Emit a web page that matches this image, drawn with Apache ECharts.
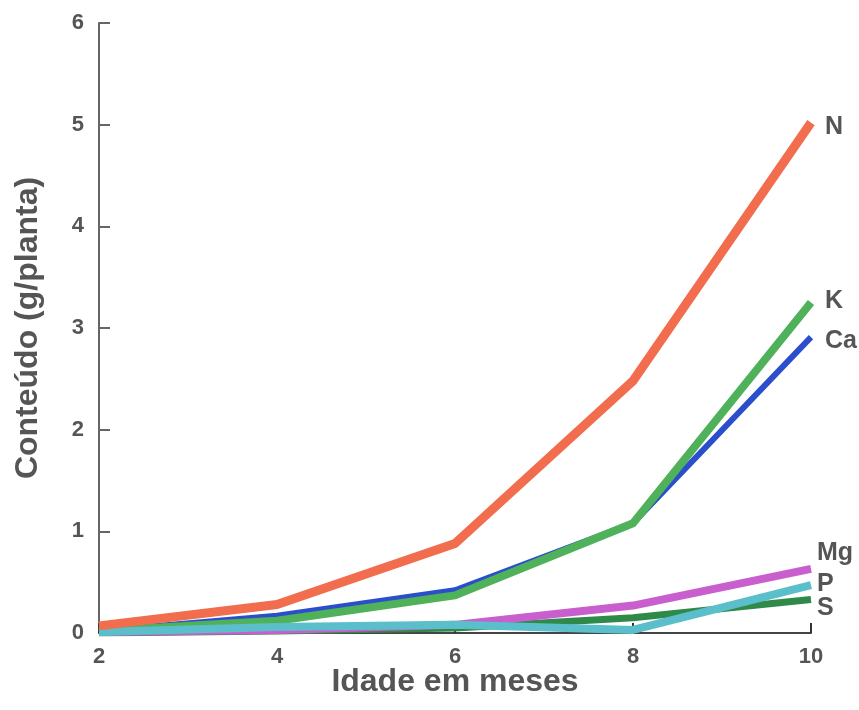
<!DOCTYPE html>
<html><head><meta charset="utf-8">
<script src="https://cdn.jsdelivr.net/npm/echarts@6/dist/echarts.min.js"></script>
<style>html,body{margin:0;padding:0;background:#fff}#c{width:859px;height:710px}</style>
</head><body><div id="c"></div>
<script>
const months = [2, 4, 6, 8, 10];
const N  = [0.07, 0.28, 0.88, 2.48, 5.02];
const K  = [0.02, 0.12, 0.37, 1.08, 3.25];
const Ca = [0.02, 0.17, 0.42, 1.08, 2.91];
const Mg = [0.01, 0.03, 0.08, 0.27, 0.63];
const P  = [0.01, 0.06, 0.08, 0.03, 0.47];
const S  = [0.00, 0.02, 0.05, 0.15, 0.33];
const yTicks = [0, 1, 2, 3, 4, 5, 6];

const font = '"Liberation Sans", Arial, sans-serif';
function mk(name, data, color, width, offset, z) {
  return {
    name, type: 'line', data: months.map((m, i) => [m, data[i]]),
    symbol: 'none', z: z,
    lineStyle: { color, width, cap: 'butt', join: 'round' },
    endLabel: { show: true, formatter: name, color: '#555', fontFamily: font,
      fontWeight: 'bold', fontSize: 25, offset: offset, distance: 12 },
    animation: false
  };
}
const chart = echarts.init(document.getElementById('c'));
chart.setOption({
  animation: false,
  grid: { left: 99, right: 48, top: 23, bottom: 77, containLabel: false, outerBoundsMode: 'none' },
  xAxis: {
    type: 'value', min: 2, max: 10, interval: 2,
    name: 'Idade em meses', nameLocation: 'middle', nameGap: 33, nameMoveOverlap: false,
    nameTextStyle: { color: '#555', fontFamily: font, fontWeight: 'bold', fontSize: 32 },
    axisLine: { lineStyle: { color: '#444', width: 2 } },
    axisTick: { inside: true, length: 10, lineStyle: { color: '#333', width: 2 } },
    axisLabel: { color: '#555', fontFamily: font, fontWeight: 'bold', fontSize: 22, margin: 13 },
    splitLine: { show: false }
  },
  yAxis: {
    type: 'value', min: 0, max: 6, interval: 1,
    name: 'Conteúdo (g/planta)', nameLocation: 'middle', nameGap: 55, nameMoveOverlap: false,
    nameTextStyle: { color: '#555', fontFamily: font, fontWeight: 'bold', fontSize: 32 },
    axisLine: { show: true, lineStyle: { color: '#666', width: 2 } },
    axisTick: { show: true, inside: true, length: 11, lineStyle: { color: '#666', width: 2 } },
    axisLabel: { color: '#555', fontFamily: font, fontWeight: 'bold', fontSize: 22, margin: 15,
      formatter: v => yTicks.includes(v) ? String(v) : '' },
    splitLine: { show: false }
  },
  series: [
    mk('Ca', Ca, '#2b4fcc', 6, [2, 4], 2),
    mk('K', K, '#4fb25a', 8, [2, -1], 3),
    mk('S', S, '#2f8a4a', 7, [-6, 9], 4),
    mk('Mg', Mg, '#c95fcf', 8, [-6, -16], 5),
    mk('P', P, '#5bbfcb', 8, [-6, -1], 6),
    mk('N', N, '#f26d4d', 9, [2, 4], 7)
  ]
});
</script></body></html>
